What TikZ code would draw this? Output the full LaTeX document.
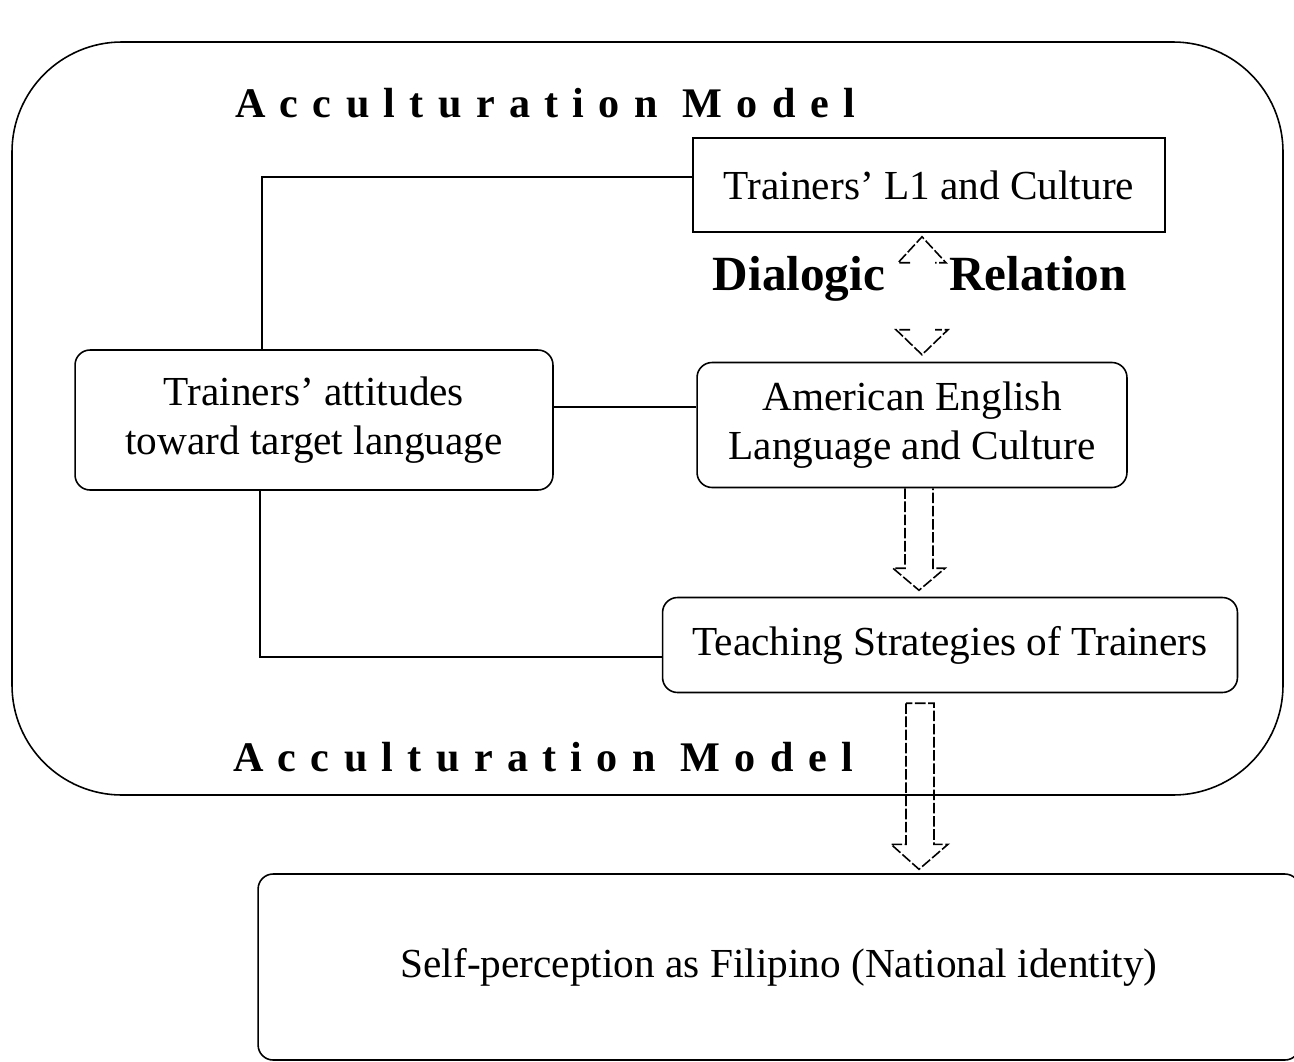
\documentclass[tikz,border=0pt]{standalone}
\usepackage{fontspec}
\setmainfont{Liberation Serif}
\newfontfamily\heavyfont[LetterSpace=34]{Liberation Serif Bold}
\newfontfamily\dialfont{Liberation Serif Bold}
\usetikzlibrary{calc}
\usetikzlibrary{positioning}
\tikzset{
    box/.style={draw=black, align=center, inner sep=0pt,
        font=\fontsize{23.5}{28}\selectfont},
    roundbox/.style={box, rounded corners=0.3cm},
    connect/.style={draw=black},
    blockarr/.style={draw=black, dashed, dash pattern=on 6pt off 1.5pt},
    title/.style={font=\fontsize{24}{26}\heavyfont},
    dialogic/.style={anchor=base, font=\fontsize{28}{30}\dialfont},
}

\begin{document}
\begin{tikzpicture}[x=0.02cm, y=-0.02cm, line width=0.9pt]
\useasboundingbox (0,0) rectangle (1294,1061);
% outer frame
\draw[rounded corners=2.2cm] (12,42) rectangle (1283,795);
\node[title] (titletop) at (545,103) {Acculturation Model};
\node[title] (titlebot) at (543,757) {Acculturation Model};
% boxes
\node[box, minimum width=9.44cm, minimum height=1.88cm] (l1) at (929,185) {Trainers' L1 and Culture};
\node[roundbox, minimum width=9.56cm, minimum height=2.8cm] (att) at (314,420) {Trainers' attitudes\\toward target language};
\node[roundbox, minimum width=8.6cm, minimum height=2.5cm] (amer) at (912,425) {American English\\Language and Culture};
\node[roundbox, minimum width=11.5cm, minimum height=1.9cm] (teach) at (950,645) {Teaching Strategies of Trainers};
\node[roundbox, minimum width=20.84cm, minimum height=3.72cm] (self) at (779,967) {Self-perception as Filipino (National identity)};
\node[dialogic] (dial) at (799,290) {Dialogic};
\node[dialogic] (rel) at (1038,290) {Relation};
% connectors
\draw[connect] ([yshift=0.16cm]l1.west) -| ([xshift=-1.04cm]att.north);
\draw[connect] ([yshift=0.26cm]att.east) -- ([yshift=0.26cm]att.east -| amer.west);
\draw[connect] ([xshift=-1.08cm]att.south) |- ([yshift=-0.24cm]teach.west);
% dialogic relation heads
\draw[blockarr] ($(l1.south)+(-19,30)$) -- ++(-12,0) -- ++(24,-26) -- ++(24,26) -- ++(-11,0);
\draw[blockarr] ($(amer.north)+(-2,-32)$) -- ++(-14,0) -- ++(26,25) -- ++(26,-25) -- ++(-13,0);
% block arrows
\draw[blockarr] ($(amer.south)+(-7,0)$) -- ++(0,80) -- ++(-12,0) -- ++(26,22) -- ++(26,-22) -- ++(-12,0) -- ++(0,-80);
\draw[blockarr] ($(teach.south)+(-44,10)$) -- ++(0,141) -- ++(-15,0) -- ++(28,25) -- ++(29,-25) -- ++(-14,0) -- ++(0,-141) -- cycle;
\end{tikzpicture}
\end{document}
